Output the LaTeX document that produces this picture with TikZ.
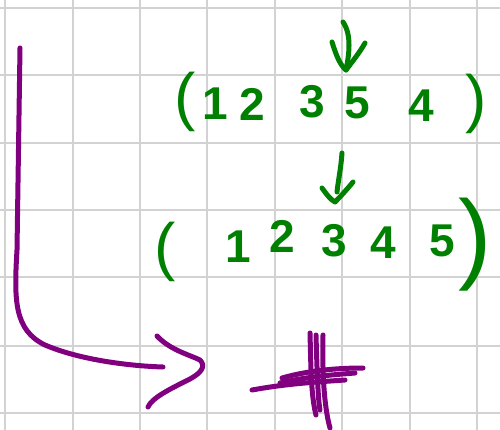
\documentclass[tikz,border=0pt]{standalone}
\usepackage{fontspec}
\setmainfont{Liberation Sans}
\definecolor{gridgray}{RGB}{210,210,210}
\definecolor{inkgreen}{RGB}{0,128,0}
\definecolor{inkpurple}{RGB}{128,0,128}
\begin{document}
\begin{tikzpicture}[x=1pt,y=-1pt,
  gridline/.style={gridgray,line width=2.2pt},
  greenink/.style={inkgreen,line width=5pt,line cap=round,line join=round},
  purpleink/.style={inkpurple,line width=5pt,line cap=round,line join=round},
  digit/.style={inkgreen,inner sep=0pt,font=\fontsize{46}{46}\selectfont\bfseries},
  parenA/.style={inkgreen,inner sep=0pt,font=\fontsize{64}{64}\selectfont},
  parenB/.style={inkgreen,inner sep=0pt,font=\fontsize{100}{100}\selectfont}]
\useasboundingbox (0,0) rectangle (500,430);
\fill[white] (0,0) rectangle (500,430);
\foreach \x in {5,73,140,207,275,342,410,477} \draw[gridline] (\x,0) -- (\x,430);
\foreach \y in {8,75,143,210,277,346,413} \draw[gridline] (0,\y) -- (500,\y);

% row 1
\node[parenA] (lp1) at (185,102) {(};
\node[digit] (a1) at (215,104) {1};
\node[digit] (a2) at (252,104) {2};
\node[digit] (a3) at (312,102) {3};
\node[digit] (a5) at (357,103) {5};
\node[digit] (a4) at (421,106) {4};
\node[parenA] (rp1) at (476,104) {)};

% row 2
\node[parenA] (lp2) at (165,252) {(};
\node[digit] (b1) at (238,247) {1};
\node[digit] (b2) at (282,236) {2};
\node[digit] (b3) at (334,241) {3};
\node[digit] (b4) at (383,243) {4};
\node[digit] (b5) at (442,241) {5};
\node[parenB] (rp2) at (475,245) {)};

% green arrows
\coordinate (t1) at (343,22);
\coordinate (h1) at (346,70);
\draw[greenink] (t1) .. controls (352,35) and (349,55) .. (h1);
\draw[greenink] (332,42) .. controls (336,55) and (340,65) .. (h1) .. controls (352,62) and (360,52) .. (365,43);

\coordinate (t2) at (342,153);
\coordinate (h2) at (335,202);
\draw[greenink] (t2) .. controls (341,168) and (338,182) .. (337,192);
\draw[greenink] (322,188) .. controls (327,195) and (331,200) .. (h2) .. controls (342,195) and (349,187) .. (353,182);

% purple arrow
\coordinate (ps) at (20,48);
\coordinate (pe) at (163,367);
\draw[purpleink] (ps) -- (17,250) .. controls (14,300) and (14,330) .. (45,345) .. controls (80,360) and (130,366) .. (pe);
\draw[purpleink] (157,336) .. controls (170,350) and (190,355) .. (200,360) .. controls (206,366) and (202,373) .. (188,380) .. controls (168,390) and (152,398) .. (148,407);

% plus
\draw[purpleink] (310,333) .. controls (311,370) and (311,395) .. (316,415);
\draw[purpleink] (316,335) .. controls (317,370) and (318,400) .. (320,410);
\draw[purpleink] (323,335) .. controls (322,380) and (325,410) .. (330,428);
\draw[purpleink] (252,390) .. controls (280,385) and (300,383) .. (345,380);
\draw[purpleink] (282,378) .. controls (310,370) and (340,368) .. (363,368);
\draw[purpleink] (280,383) .. controls (305,377) and (330,375) .. (355,373);
\end{tikzpicture}
\end{document}
